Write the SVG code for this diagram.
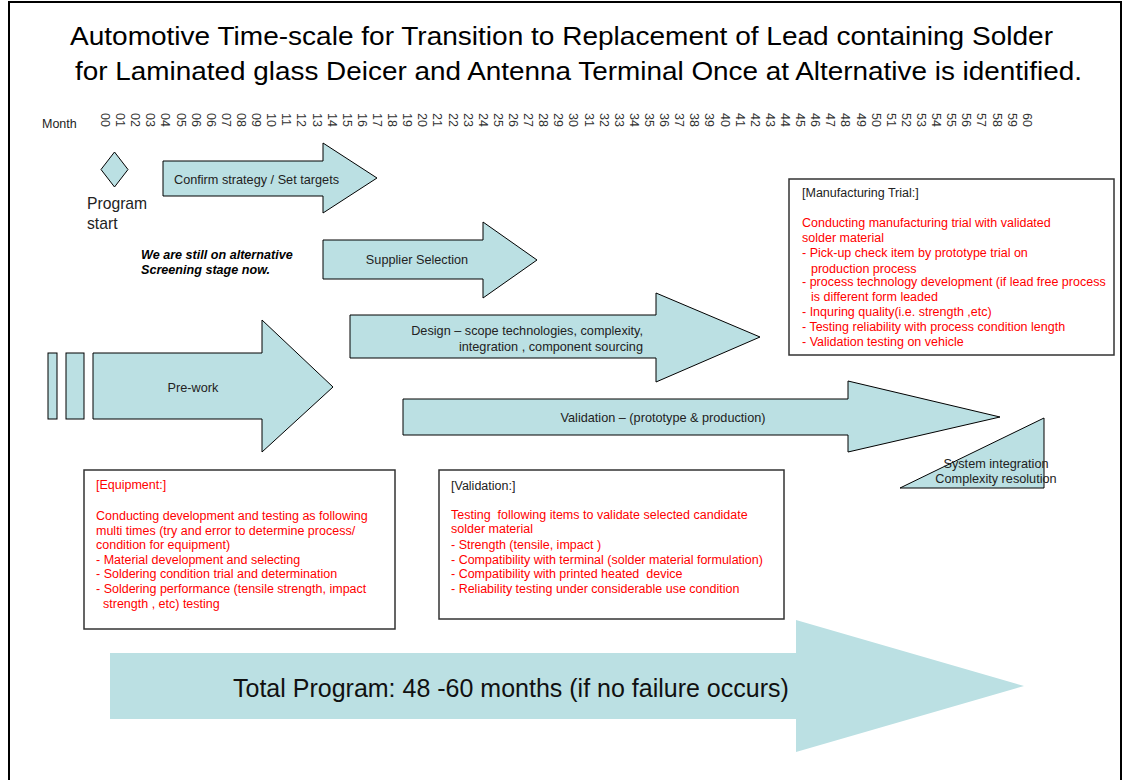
<svg xmlns="http://www.w3.org/2000/svg" width="1131" height="780" viewBox="0 0 1131 780">
<style>
text{font-family:"Liberation Sans",Arial,sans-serif;}
.shape{fill:#bbe0e3;stroke:#000;stroke-width:1;}
.box{fill:#fff;stroke:#333;stroke-width:1.5;}
.lbl{font-size:12.7px;fill:#222;}
.red{font-size:12.5px;fill:#ff0000;}
.blk{font-size:12.5px;fill:#222;}
.mo{font-size:12.5px;fill:#333;}
</style>
<rect x="9" y="2" width="1112" height="790" fill="#fff" stroke="#000" stroke-width="2"/>
<g id="title">
<text x="70" y="45" font-size="25" textLength="983" lengthAdjust="spacingAndGlyphs">Automotive Time-scale for Transition to Replacement of Lead containing Solder</text>
<text x="75" y="80" font-size="25" textLength="1007" lengthAdjust="spacingAndGlyphs">for Laminated glass Deicer and Antenna Terminal Once at Alternative is identified.</text>
</g>
<g id="months">
<text x="42" y="128" font-size="12.5" fill="#222">Month</text>
<g class="mo">
<text transform="translate(101,113) rotate(90)">00</text>
<text transform="translate(116.1,113) rotate(90)">01</text>
<text transform="translate(131.2,113) rotate(90)">02</text>
<text transform="translate(146.3,113) rotate(90)">03</text>
<text transform="translate(161.4,113) rotate(90)">04</text>
<text transform="translate(176.5,113) rotate(90)">05</text>
<text transform="translate(191.7,113) rotate(90)">06</text>
<text transform="translate(206.8,113) rotate(90)">06</text>
<text transform="translate(221.9,113) rotate(90)">07</text>
<text transform="translate(237.0,113) rotate(90)">08</text>
<text transform="translate(252.1,113) rotate(90)">09</text>
<text transform="translate(267.2,113) rotate(90)">10</text>
<text transform="translate(282.3,113) rotate(90)">11</text>
<text transform="translate(297.4,113) rotate(90)">12</text>
<text transform="translate(312.5,113) rotate(90)">13</text>
<text transform="translate(327.6,113) rotate(90)">14</text>
<text transform="translate(342.8,113) rotate(90)">15</text>
<text transform="translate(357.9,113) rotate(90)">16</text>
<text transform="translate(373.0,113) rotate(90)">17</text>
<text transform="translate(388.1,113) rotate(90)">18</text>
<text transform="translate(403.2,113) rotate(90)">19</text>
<text transform="translate(418.3,113) rotate(90)">20</text>
<text transform="translate(433.4,113) rotate(90)">21</text>
<text transform="translate(448.5,113) rotate(90)">22</text>
<text transform="translate(463.6,113) rotate(90)">23</text>
<text transform="translate(478.7,113) rotate(90)">24</text>
<text transform="translate(493.9,113) rotate(90)">25</text>
<text transform="translate(509.0,113) rotate(90)">26</text>
<text transform="translate(524.1,113) rotate(90)">27</text>
<text transform="translate(539.2,113) rotate(90)">28</text>
<text transform="translate(554.3,113) rotate(90)">29</text>
<text transform="translate(569.4,113) rotate(90)">30</text>
<text transform="translate(584.5,113) rotate(90)">31</text>
<text transform="translate(599.6,113) rotate(90)">32</text>
<text transform="translate(614.7,113) rotate(90)">33</text>
<text transform="translate(629.8,113) rotate(90)">34</text>
<text transform="translate(645.0,113) rotate(90)">35</text>
<text transform="translate(660.1,113) rotate(90)">36</text>
<text transform="translate(675.2,113) rotate(90)">37</text>
<text transform="translate(690.3,113) rotate(90)">38</text>
<text transform="translate(705.4,113) rotate(90)">39</text>
<text transform="translate(720.5,113) rotate(90)">40</text>
<text transform="translate(735.6,113) rotate(90)">41</text>
<text transform="translate(750.7,113) rotate(90)">42</text>
<text transform="translate(765.8,113) rotate(90)">43</text>
<text transform="translate(780.9,113) rotate(90)">44</text>
<text transform="translate(796.1,113) rotate(90)">45</text>
<text transform="translate(811.2,113) rotate(90)">46</text>
<text transform="translate(826.3,113) rotate(90)">47</text>
<text transform="translate(841.4,113) rotate(90)">48</text>
<text transform="translate(856.5,113) rotate(90)">49</text>
<text transform="translate(871.6,113) rotate(90)">50</text>
<text transform="translate(886.7,113) rotate(90)">51</text>
<text transform="translate(901.8,113) rotate(90)">52</text>
<text transform="translate(916.9,113) rotate(90)">53</text>
<text transform="translate(932.0,113) rotate(90)">54</text>
<text transform="translate(947.2,113) rotate(90)">55</text>
<text transform="translate(962.3,113) rotate(90)">56</text>
<text transform="translate(977.4,113) rotate(90)">57</text>
<text transform="translate(992.5,113) rotate(90)">58</text>
<text transform="translate(1007.6,113) rotate(90)">59</text>
<text transform="translate(1022.7,113) rotate(90)">60</text>
</g>
</g>
<g id="program-start">
<polygon class="shape" points="114.5,152 128,169.5 114.5,187 101,169.5"/>
<text x="87" y="209" font-size="15.7" fill="#222">Program</text>
<text x="87" y="229" font-size="15.7" fill="#222">start</text>
</g>
<g id="confirm-strategy">
<polygon class="shape" points="163,161 323,161 323,143 377,178 323,213 323,196 163,196"/>
<text class="lbl" x="174" y="184">Confirm strategy / Set targets</text>
</g>
<g id="screening-note">
<text x="141" y="259" font-size="12.6" font-weight="bold" font-style="italic">We are still on alternative</text>
<text x="141" y="274" font-size="12.6" font-weight="bold" font-style="italic">Screening stage now.</text>
</g>
<g id="supplier-selection">
<polygon class="shape" points="323,240 483,240 483,222 537,260 483,298 483,279 323,279"/>
<text class="lbl" x="417" y="264" text-anchor="middle">Supplier Selection</text>
</g>
<g id="design">
<polygon class="shape" points="350,315 656,315 656,293 760,337 656,382 656,358 350,358"/>
<text class="lbl" x="643" y="335" text-anchor="end">Design – scope technologies, complexity,</text>
<text class="lbl" x="643" y="351" text-anchor="end">integration , component sourcing</text>
</g>
<g id="pre-work">
<rect class="shape" x="48" y="353" width="9" height="66"/>
<rect class="shape" x="66" y="353" width="18" height="66"/>
<polygon class="shape" points="93,353 262,353 262,320 333,387 262,452 262,419 93,419"/>
<text class="lbl" x="193" y="392" text-anchor="middle">Pre-work</text>
</g>
<g id="validation-arrow">
<polygon class="shape" points="403,399 848,399 848,381 1000,417 848,452 848,435 403,435"/>
<text class="lbl" x="663" y="422" text-anchor="middle">Validation – (prototype &amp; production)</text>
</g>
<g id="system-integration">
<polygon class="shape" points="900,488 1044,488 1044,418"/>
<text class="lbl" x="996" y="468" text-anchor="middle">System integration</text>
<text class="lbl" x="996" y="483" text-anchor="middle">Complexity resolution</text>
</g>
<g id="manufacturing-trial">
<rect class="box" x="789" y="179" width="325" height="176"/>
<text class="blk" x="802" y="197">[Manufacturing Trial:]</text>
<text class="red" x="802" y="227">Conducting manufacturing trial with validated</text>
<text class="red" x="802" y="242">solder material</text>
<text class="red" x="802" y="257">- Pick-up check item by prototype trial on</text>
<text class="red" x="811" y="273">production process</text>
<text class="red" x="802" y="286">- process technology development (if lead free process</text>
<text class="red" x="811" y="301">is different form leaded</text>
<text class="red" x="802" y="316">- Inquring quality(i.e. strength ,etc)</text>
<text class="red" x="802" y="331">- Testing reliability with process condition length</text>
<text class="red" x="802" y="346">- Validation testing on vehicle</text>
</g>
<g id="equipment">
<rect class="box" x="84" y="470" width="311" height="159"/>
<text class="red" x="96" y="489">[Equipment:]</text>
<text class="red" x="96" y="520">Conducting development and testing as following</text>
<text class="red" x="96" y="535">multi times (try and error to determine process/</text>
<text class="red" x="96" y="549">condition for equipment)</text>
<text class="red" x="96" y="564">- Material development and selecting</text>
<text class="red" x="96" y="578">- Soldering condition trial and determination</text>
<text class="red" x="96" y="593">- Soldering performance (tensile strength, impact</text>
<text class="red" x="103" y="608">strength , etc) testing</text>
</g>
<g id="validation-box">
<rect class="box" x="439" y="470" width="345" height="149"/>
<text class="blk" x="451" y="490">[Validation:]</text>
<text class="red" x="451" y="519" xml:space="preserve">Testing  following items to validate selected candidate</text>
<text class="red" x="451" y="533">solder material</text>
<text class="red" x="451" y="549">- Strength (tensile, impact )</text>
<text class="red" x="451" y="564">- Compatibility with terminal (solder material formulation)</text>
<text class="red" x="451" y="578" xml:space="preserve">- Compatibility with printed heated  device</text>
<text class="red" x="451" y="593">- Reliability testing under considerable use condition</text>
</g>
<g id="total-program">
<polygon fill="#bbe0e3" points="110,653 796,653 796,620 1024,686 796,752 796,719 110,719"/>
<text x="233" y="697" font-size="25" fill="#111">Total Program: 48 -60 months (if no failure occurs)</text>
</g>
<g id="connectors"/>
</svg>
